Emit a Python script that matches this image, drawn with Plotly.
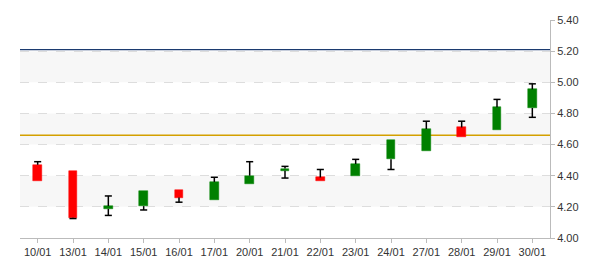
import plotly.graph_objects as go

dates = ["10/01", "13/01", "14/01", "15/01", "16/01", "17/01", "20/01", "21/01",
         "22/01", "23/01", "24/01", "27/01", "28/01", "29/01", "30/01"]
open_ = [4.47, 4.43, 4.187, 4.205, 4.31, 4.245, 4.35, 4.432, 4.389, 4.40, 4.505, 4.56, 4.71, 4.695, 4.835]
high = [4.49, 4.43, 4.27, 4.30, 4.31, 4.39, 4.49, 4.46, 4.44, 4.505, 4.63, 4.75, 4.75, 4.89, 4.99]
low = [4.365, 4.125, 4.145, 4.18, 4.23, 4.245, 4.35, 4.385, 4.369, 4.40, 4.44, 4.56, 4.65, 4.695, 4.775]
close = [4.365, 4.13, 4.205, 4.30, 4.26, 4.36, 4.40, 4.446, 4.369, 4.475, 4.63, 4.70, 4.65, 4.84, 4.955]
ref_high = 5.21
ref_gold = 4.66
y_ticks = [4.00, 4.20, 4.40, 4.60, 4.80, 5.00, 5.20, 5.40]
bands = [(4.20, 4.40), (4.60, 4.80), (5.00, 5.20)]

GREEN = "#008000"
RED = "#ff0000"
xs = list(range(len(dates)))
cap = 0.1

fig = go.Figure()

# whiskers with caps
wx, wy = [], []
for i, o, h, l, c in zip(xs, open_, high, low, close):
    top = max(o, c)
    bot = min(o, c)
    if h > top + 0.003:
        wx += [i, i, None, i - cap, i + cap, None]
        wy += [top, h, None, h, h, None]
    if l < bot - 0.003:
        wx += [i, i, None, i - cap, i + cap, None]
        wy += [bot, l, None, l, l, None]
fig.add_trace(go.Scatter(x=wx, y=wy, mode="lines", line=dict(color="#000000", width=1.5),
                         hoverinfo="skip", showlegend=False))

colors = [GREEN if c >= o else RED for o, c in zip(open_, close)]
base = [min(o, c) for o, c in zip(open_, close)]
height = [abs(c - o) for o, c in zip(open_, close)]
fig.add_trace(go.Bar(x=xs, y=height, base=base, width=0.25,
                     marker=dict(color=colors, line=dict(color=colors, width=0.5)),
                     showlegend=False))

shapes = []
for lo, hi in bands:
    shapes.append(dict(type="rect", xref="paper", yref="y", x0=0, x1=1, y0=lo, y1=hi,
                       fillcolor="#f7f7f7", line=dict(width=0), layer="below"))
shapes.append(dict(type="line", xref="paper", yref="y", x0=0, x1=1, y0=ref_high, y1=ref_high,
                   line=dict(color="#1c3b70", width=1.2), layer="between"))
shapes.append(dict(type="line", xref="paper", yref="y", x0=0, x1=1, y0=ref_gold, y1=ref_gold,
                   line=dict(color="#d4a000", width=1.3), layer="between"))

fig.update_layout(
    width=600, height=270,
    margin=dict(l=20, r=50, t=20, b=30),
    paper_bgcolor="white", plot_bgcolor="white",
    shapes=shapes,
    bargap=0,
    font=dict(family="Liberation Sans, Arial, sans-serif", size=11, color="#333333"),
    xaxis=dict(range=[-0.5, len(dates) - 0.5], tickmode="array", tickvals=xs, ticktext=dates,
               showgrid=False, zeroline=False, showline=True, linecolor="#bbbbbb", linewidth=1,
               ticks="outside", ticklen=4, tickcolor="#bbbbbb", fixedrange=True),
    yaxis=dict(range=[4.0, 5.4], side="right", tickmode="array", tickvals=y_ticks,
               ticktext=[f"{v:.2f}" for v in y_ticks],
               showgrid=True, gridcolor="#dddddd", griddash="dash", gridwidth=1,
               zeroline=False, showline=True, linecolor="#bbbbbb", linewidth=1,
               ticks="outside", ticklen=4, tickcolor="#bbbbbb", fixedrange=True),
)

fig.write_html("out.html")
